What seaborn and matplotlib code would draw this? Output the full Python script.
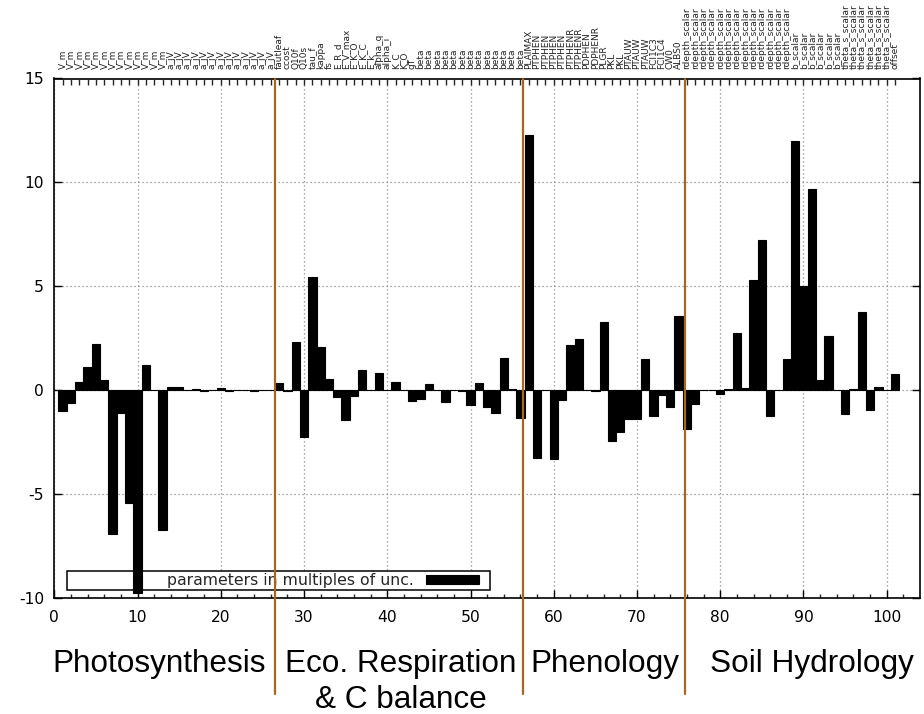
import matplotlib
matplotlib.use("Agg")
import matplotlib.pyplot as plt
from matplotlib.patches import Rectangle
import pandas as pd
import seaborn as sns

# parameter index (1-based) and the shift of each parameter, in multiples of its uncertainty
param_index = list(range(1, 102))
param_shift = [
    -1.00, -0.63, 0.37, 1.10, 2.20, 0.50, -6.95, -1.10, -5.46, -9.80,
    1.22, 0.00, -6.76, 0.13, 0.15, 0.00, 0.05, -0.05, 0.00, 0.10,
    -0.05, 0.00, 0.00, -0.05, 0.00, 0.00, 0.32, -0.07, 2.32, -2.26,
    5.46, 2.06, 0.53, -0.36, -1.45, -0.28, 0.98, 0.00, 0.79, 0.00,
    0.39, 0.00, -0.53, -0.44, 0.30, 0.00, -0.60, 0.00, -0.05, -0.73,
    0.32, -0.84, -1.13, 1.56, 0.02, -1.37, 12.30, -3.27, 0.00, -3.35,
    -0.48, 2.14, 2.43, 0.00, -0.05, 3.26, -2.46, -2.03, -1.38, -1.38,
    1.50, -1.25, -0.25, -0.84, 3.58, -1.87, -0.70, 0.00, 0.00, -0.20,
    0.05, 2.74, 0.10, 5.27, 7.20, -1.25, 0.00, 1.47, 11.97, 5.00,
    9.70, 0.47, 2.62, 0.00, -1.18, 0.03, 3.77, -0.97, 0.13, 0.00,
    0.75,
]

# parameter names shown along the top axis
photo_names = ["V_m"] * 13 + ["a_jV"] * 13
resp_names = ["fautleaf", "ccost", "Q10f", "Q10s", "tau_f", "kappa", "fs",
              "E_R_d", "E_V_max", "E_K_O", "E_K_C", "E_k", "alpha_q",
              "alpha_i", "K_C", "K_O", "gT"] + ["beta"] * 13
pheno_names = ["PLAIMAX"] + ["PTPHEN"] * 4 + ["PTPHENR"] * 2 + [
    "PDPHEN", "PDPHENR", "PLGR", "PKL", "PKL", "PTAUW", "PTAUW", "PTAUW",
    "FCI1C3", "FCI1C4", "CW0", "ALBS0"]
soil_names = (["rdepth_scalar"] * 13 + ["b_scalar"] * 6
              + ["theta_s_scalar"] * 6 + ["offset"])
param_names = photo_names + resp_names + pheno_names + soil_names

# process groups and the parameter positions separating them
group_names = ["Photosynthesis", "Eco. Respiration\n& C balance",
               "Phenology", "Soil Hydrology"]
group_bounds = [26.55, 56.3, 75.75]

legend_label = "parameters in multiples of unc."

df = pd.DataFrame({"index": param_index, "shift": param_shift})

sns.set_theme(style="white")
plt.rcParams["font.family"] = ["DejaVu Sans"]
plt.rcParams["axes.unicode_minus"] = False

W, H = 924, 714
fig = plt.figure(figsize=(W / 100, H / 100), dpi=100)
ax_left, ax_right, ax_top, ax_bot = 54.3, 920.0, 78.5, 597.5
ax = fig.add_axes([ax_left / W, 1 - ax_bot / H,
                   (ax_right - ax_left) / W, (ax_bot - ax_top) / H])

sns.barplot(data=df, x="index", y="shift", native_scale=True, width=1.0,
            color="black", saturation=1, edgecolor="black", linewidth=0.8,
            errorbar=None, label=legend_label, legend=False, ax=ax, zorder=2)

ax.set_xlim(0, 104)
ax.set_ylim(-10, 15)
ax.set_xlabel("")
ax.set_ylabel("")
ax.set_xticks(range(0, 101, 10))
ax.set_xticks(range(0, 104, 2), minor=True)
ax.set_yticks([-10, -5, 0, 5, 10, 15])
ax.set_yticklabels(["-10", "-5", "0", "5", "10", "15"])

ax.set_axisbelow(True)
ax.grid(True, which="major", color="#8a8a8a", linestyle=(0, (1, 2.2)),
        linewidth=0.9)
for s in ax.spines.values():
    s.set_color("black")
    s.set_linewidth(1.2)

ax.tick_params(axis="x", which="major", direction="in", length=6, width=1.0,
               bottom=True, top=False, labelsize=11.2, pad=9, colors="black")
ax.tick_params(axis="x", which="minor", direction="in", length=3, width=1.0,
               bottom=True, top=False)
ax.tick_params(axis="y", which="major", direction="in", length=6, width=1.0,
               left=True, right=True, labelsize=11.2, pad=7.5, colors="black")

# parameter names on the top axis
ax2 = ax.twiny()
ax2.set_xlim(ax.get_xlim())
ax2.set_xticks(param_index)
ax2.set_xticklabels(param_names, rotation=90, fontsize=6.5, color="#222222")
ax2.tick_params(axis="x", direction="in", length=4.5, width=1.0, pad=7,
                top=True, bottom=False)
for s in ax2.spines.values():
    s.set_visible(False)

# legend box: white frame behind the bars, key on its right side
box_x0, box_x1, box_y0, box_y1 = 66.7, 490.0, 571.0, 590.0
ax_w = ax_right - ax_left
ax_h = ax_bot - ax_top
ax.add_patch(Rectangle(((box_x0 - ax_left) / ax_w, (ax_bot - box_y1) / ax_h),
                       (box_x1 - box_x0) / ax_w, (box_y1 - box_y0) / ax_h,
                       transform=ax.transAxes, facecolor="white",
                       edgecolor="black", linewidth=1.1, zorder=1))
handles, labels = ax.get_legend_handles_labels()
leg = ax.legend(handles[:1], labels[:1], loc="center right",
                bbox_to_anchor=((479 - ax_left) / ax_w,
                                (ax_bot - 580.5) / ax_h),
                frameon=False, markerfirst=False, fontsize=11.3,
                handlelength=3.4, handleheight=0.58, handletextpad=0.76,
                borderpad=0, borderaxespad=0)
leg.set_zorder(5)

# group separators, running down below the axis into the group labels
y_low = (ax_bot - 694) / ax_h
for xb in group_bounds:
    ax.axvline(xb, ymin=y_low, ymax=1.0, color="#a8661f", linewidth=1.6,
               clip_on=False, zorder=6)

# group labels under the axis
label_font = dict(family=["Liberation Sans", "DejaVu Sans"], fontsize=22.7,
                  color="black")
fig.text(52 / W, 1 - 672 / H, group_names[0], ha="left", va="baseline",
         **label_font)
eco_lines = group_names[1].split("\n")
fig.text(401 / W, 1 - 672 / H, eco_lines[0], ha="center", va="baseline",
         **label_font)
fig.text(401 / W, 1 - 708 / H, eco_lines[1], ha="center", va="baseline",
         **label_font)
fig.text(530 / W, 1 - 672 / H, group_names[2], ha="left", va="baseline",
         **label_font)
fig.text(710 / W, 1 - 672 / H, group_names[3], ha="left", va="baseline",
         **label_font)

fig.savefig("out.png", dpi=100)
